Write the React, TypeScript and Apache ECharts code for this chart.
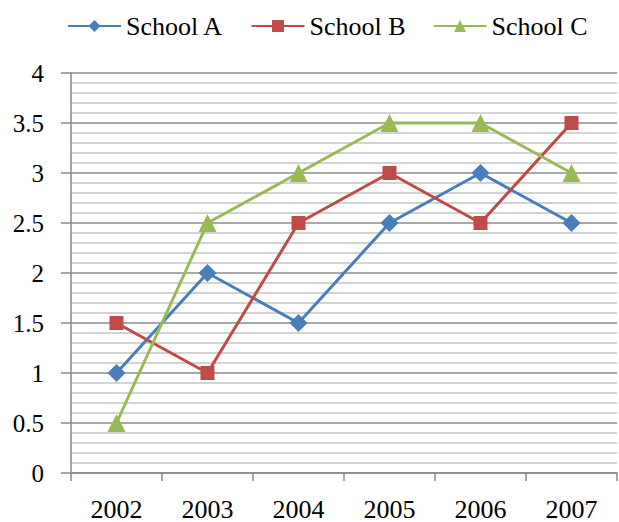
import React, { useEffect, useRef } from "react";
import * as echarts from "echarts";

const years = ["2002", "2003", "2004", "2005", "2006", "2007"];
const schoolA = [1, 2, 1.5, 2.5, 3, 2.5];
const schoolB = [1.5, 1, 2.5, 3, 2.5, 3.5];
const schoolC = [0.5, 2.5, 3, 3.5, 3.5, 3];

const FONT = "Liberation Serif";

export default function App() {
  const ref = useRef<HTMLDivElement>(null);
  useEffect(() => {
    const chart = echarts.init(ref.current!, null, { renderer: "svg" });
    const mk = (name: string, data: number[], color: string, symbol: string, size: number) => ({
      name,
      type: "line",
      data,
      symbol,
      symbolSize: size,
      lineStyle: { color, width: 3 },
      itemStyle: { color },
      emphasis: { disabled: true },
    });
    chart.setOption({
      animation: false,
      legend: {
        top: 8,
        left: 62,
        itemWidth: 53,
        itemHeight: 15,
        itemGap: 27,
        textStyle: { fontFamily: FONT, fontSize: 26, color: "#000" },
        data: ["School A", "School B", "School C"],
      },
      grid: { left: 71, right: 2, top: 73, bottom: 46 },
      xAxis: {
        type: "category",
        data: years,
        boundaryGap: true,
        axisLine: { lineStyle: { color: "#888", width: 1.5 } },
        axisTick: { show: true, length: 8, lineStyle: { color: "#888", width: 1.5 } },
        axisLabel: { fontFamily: FONT, fontSize: 26, color: "#000", margin: 23 },
      },
      yAxis: {
        type: "value",
        min: 0,
        max: 4,
        interval: 0.5,
        axisLine: { show: true, lineStyle: { color: "#888", width: 1.5 } },
        axisTick: { show: true, length: 10, lineStyle: { color: "#888", width: 1.5 } },
        axisLabel: { fontFamily: FONT, fontSize: 25, color: "#000", margin: 27 },
        splitLine: { show: true, lineStyle: { color: "#8c8c8c", width: 1.5 } },
        minorTick: { show: false, splitNumber: 5 },
        minorSplitLine: { show: true, lineStyle: { color: "#c4c4c4", width: 1.5 } },
      },
      series: [
        mk("School A", schoolA, "#4a7ebb", "diamond", 18),
        mk("School B", schoolB, "#be4b48", "rect", 14),
        mk("School C", schoolC, "#98b954", "triangle", 18),
      ],
    });
    return () => chart.dispose();
  }, []);
  return (
    <div
      ref={ref}
      style={{ position: "absolute", left: 0, top: 0, width: 619, height: 522 }}
    />
  );
}
